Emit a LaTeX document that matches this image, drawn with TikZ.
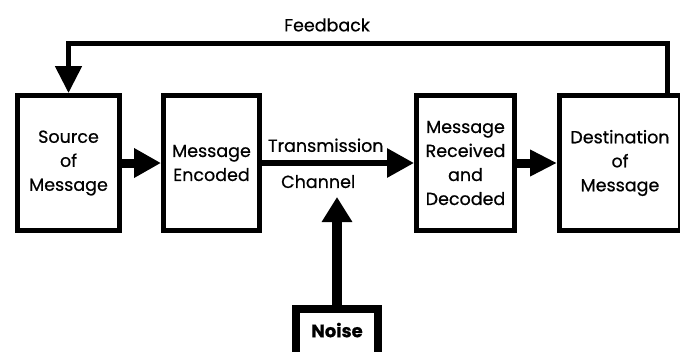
\documentclass[tikz,border=0pt]{standalone}
\usepackage{fontspec}
\setmainfont{Poppins}[FakeBold=0.6]
\usetikzlibrary{arrows.meta}
\tikzset{
  blockbox/.style={draw, line width=5pt, minimum height=135pt, inner sep=0pt,
    align=center, font=\fontsize{17.5}{24}\selectfont},
  flow/.style={line width=9pt, -{Triangle[length=27pt,width=28pt]}},
  wire/.style={line width=5pt},
  lbl/.style={inner sep=2pt, font=\fontsize{17.5}{24}\selectfont},
}
\begin{document}
\begin{tikzpicture}[x=1pt,y=-1pt]
\clip (0,0) rectangle (680,351);
\node[blockbox, minimum width=102pt] (source) at (68.5,163) {Source\\of\\Message};
\node[blockbox, minimum width=96pt] (encoded) at (211.5,163) {Message\\Encoded};
\node[blockbox, minimum width=98pt] (received) at (465.5,163) {Message\\Received\\and\\Decoded};
\node[blockbox, minimum width=121pt] (destination) at (620,163) {Destination\\of\\Message};
\node[draw, line width=8pt, minimum width=82pt, minimum height=47pt, inner sep=0pt,
  font=\fontsize{18}{20}\selectfont\bfseries] (noise) at (337,332) {\raisebox{4pt}{Noise}};
\coordinate (noisetip) at (337,197);
% main flow
\draw[flow] (source) -- (encoded);
\draw[flow, line width=6pt] (encoded) --
  node[lbl, pos=0.42, above=6pt] (transmission) {Transmission}
  node[lbl, pos=0.37, below=7pt] (channel) {Channel} (received);
\draw[flow, -{Triangle[length=27pt,width=25pt]}] (received) -- (destination);
% feedback
\draw[wire, -{Triangle[length=27pt,width=26pt]}] ([xshift=47pt]destination.north) -- ++(0,-50)
  -| node[lbl, pos=0.284, above=7pt] (feedback) {Feedback} (source.north);
% noise
\draw[flow, line width=10pt, -{Triangle[length=25pt,width=29pt]}] (noise) -- (noisetip);
\end{tikzpicture}
\end{document}
